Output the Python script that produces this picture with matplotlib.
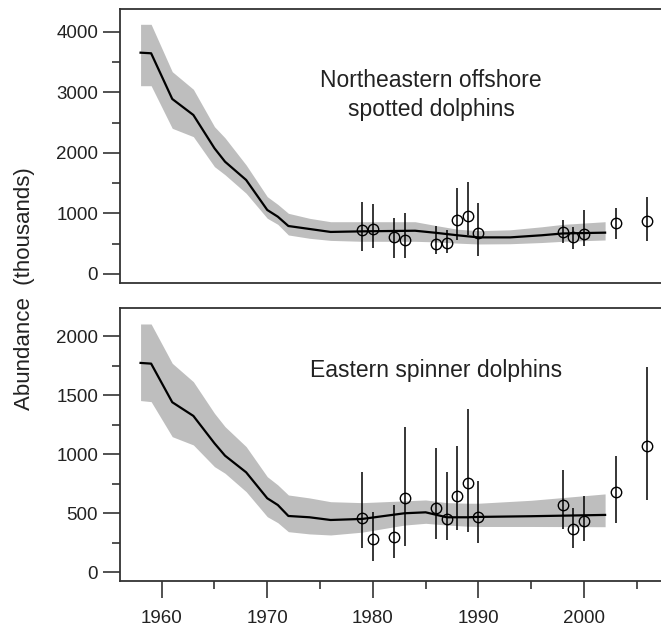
import matplotlib
matplotlib.use('Agg')
import matplotlib.pyplot as plt
import numpy as np

plt.rcParams['font.family'] = ['Liberation Sans', 'DejaVu Sans']

# modelo (linea y banda) - delfin manchado
yr_ne = [1958, 1959, 1961, 1963, 1965, 1966, 1968, 1970, 1971, 1972, 1974,
         1976, 1979, 1984, 1986, 1988, 1990, 1993, 1996, 1998, 2002]
ne_mid = [3658, 3648, 2893, 2628, 2078, 1856, 1554, 1058, 947, 793, 744,
          695, 705, 715, 680, 640, 605, 605, 640, 670, 683]
ne_hi = [4127, 4127, 3344, 3053, 2435, 2250, 1802, 1278, 1150, 1003, 920,
         864, 864, 864, 800, 740, 716, 730, 780, 820, 864]
ne_lo = [3112, 3112, 2408, 2270, 1774, 1640, 1334, 921, 820, 645, 590,
         555, 540, 540, 530, 510, 496, 500, 520, 540, 562]

# estimaciones de censo - delfin manchado
obs_yr = [1979, 1980, 1982, 1983, 1986, 1987, 1988, 1989, 1990, 1998, 1999, 2000, 2003, 2006]
ne_est = [723, 749, 612, 557, 501, 512, 892, 964, 678, 694, 606, 661, 838, 871]
ne_top = [1185, 1157, 920, 1003, 793, 727, 1427, 1516, 1168, 892, 771, 1058, 1086, 1278]
ne_bot = [380, 424, 259, 259, 331, 342, 562, 645, 298, 507, 408, 463, 574, 551]

# modelo - delfin tornillo
yr_es = [1958, 1959, 1961, 1963, 1965, 1966, 1968, 1970, 1971, 1972, 1974,
         1976, 1979, 1983, 1985, 1987, 1989, 1990, 1995, 2002]
es_mid = [1774, 1768, 1441, 1325, 1093, 988, 847, 627, 570, 477, 466,
          443, 452, 500, 508, 466, 466, 469, 475, 486]
es_hi = [2104, 2104, 1771, 1615, 1347, 1234, 1065, 810, 740, 655, 630,
         598, 590, 605, 613, 590, 585, 585, 610, 664]
es_lo = [1455, 1446, 1149, 1079, 895, 839, 683, 471, 420, 344, 325,
         316, 340, 400, 415, 400, 390, 388, 388, 386]

# estimaciones de censo - delfin tornillo
es_est = [457, 282, 297, 630, 545, 452, 644, 754, 469, 568, 370, 437, 683, 1073]
es_top = [853, 514, 570, 1229, 1051, 847, 1070, 1381, 776, 867, 542, 649, 988, 1737]
es_bot = [203, 98, 119, 223, 280, 274, 358, 344, 246, 367, 203, 268, 420, 613]

W, H = 661, 628
fig = plt.figure(figsize=(W / 100, H / 100), dpi=100)

left = 120.3 / W
width = (667.6 - 120.3) / W
ax1 = fig.add_axes([left, 1 - 283.3 / H, width, (283.3 - 9.3) / H])
ax2 = fig.add_axes([left, 1 - 581 / H, width, (581 - 307.7) / H])

band = '#bebebe'
ink = '#222222'


def panel(ax, yr, mid, lo, hi, est, bot, top):
    ax.fill_between(yr, lo, hi, color=band, lw=0, zorder=1)
    ax.plot(yr, mid, color='black', lw=1.6, zorder=2)
    est = np.array(est)
    err = [est - np.array(bot), np.array(top) - est]
    ax.errorbar(obs_yr, est, yerr=err, fmt='o', mfc='none', mec='black',
                ms=7.5, mew=1.0, ecolor='black', elinewidth=1.1,
                capsize=0, zorder=3)
    ax.set_xlim(1956.08, 2007.92)
    for s in ['top', 'left', 'bottom', 'right']:
        ax.spines[s].set_color('#333333')
        ax.spines[s].set_linewidth(1.3)
    ax.tick_params(which='major', direction='out', length=12, width=1.2,
                   color='#333333', labelsize=13.5, labelcolor=ink, pad=4)
    ax.tick_params(which='minor', direction='out', length=6, width=1.2,
                   color='#333333')


panel(ax1, yr_ne, ne_mid, ne_lo, ne_hi, ne_est, ne_bot, ne_top)
panel(ax2, yr_es, es_mid, es_lo, es_hi, es_est, es_bot, es_top)

ax1.set_ylim(-154, 4375)
ax1.set_yticks([0, 1000, 2000, 3000, 4000])
ax1.set_yticks([500, 1500, 2500, 3500], minor=True)
ax1.set_xticks([])
ax1.tick_params(axis='x', which='both', bottom=False, labelbottom=False)

ax2.set_ylim(-74, 2242)
ax2.set_yticks([0, 500, 1000, 1500, 2000])
ax2.set_yticks([250, 750, 1250, 1750], minor=True)
ax2.set_xticks([1960, 1970, 1980, 1990, 2000])
ax2.set_xticks([1965, 1975, 1985, 1995, 2005], minor=True)
ax2.tick_params(axis='x', which='major', pad=9)

# textos en coordenadas de figura
fig.text(431 / W, 1 - 95 / H, 'Northeastern offshore\nspotted dolphins',
         ha='center', va='center', fontsize=16.5, color=ink, linespacing=1.3)
fig.text(436.5 / W, 1 - 370 / H, 'Eastern spinner dolphins', ha='center',
         va='center', fontsize=16.5, color=ink)
fig.text(25 / W, 1 - 289 / H, 'Abundance  (thousands)', rotation=90,
         ha='center', va='center', fontsize=16, color=ink)

fig.savefig('out.png', dpi=100)
